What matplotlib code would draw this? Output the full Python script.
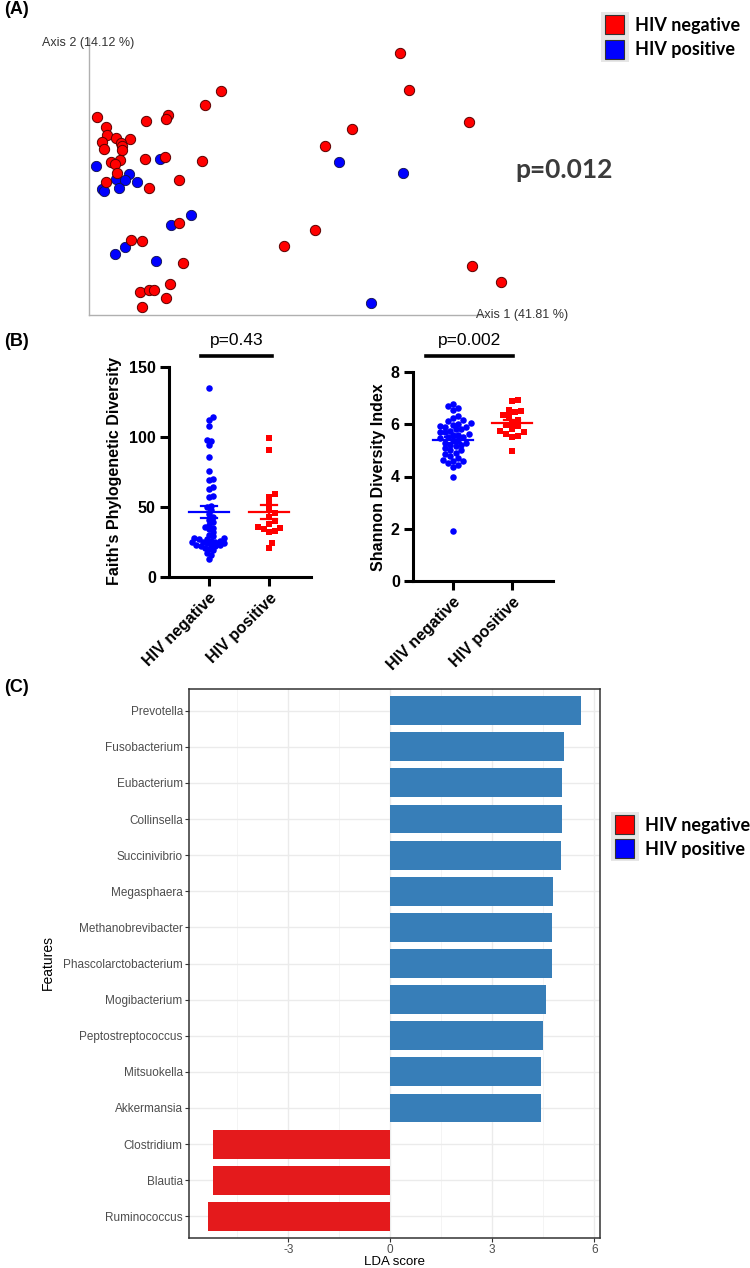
import numpy as np
import matplotlib
matplotlib.use("Agg")
import matplotlib.pyplot as plt
from matplotlib.patches import Rectangle

plt.rcParams["font.family"] = ["Liberation Sans", "DejaVu Sans"]
plt.rcParams["axes.unicode_minus"] = False

# ---- data ----
# (A) PCoA coordinates
pc1_neg = [0.152, 0.113, 0.019, 0.016, -0.158, -0.034, -0.134, -0.132, -0.110, -0.074,
           -0.144, -0.098, -0.095, -0.140, -0.095, -0.038, 0.012, 0.105, -0.123, -0.100,
           -0.113, -0.108, -0.134, 0.048, -0.028, 0.048, -0.073, -0.046, 0.058, 0.026,
           -0.050, -0.028, -0.015, 0.016, -0.046, 0.600, 0.623, 0.773, 0.480, 0.412,
           0.387, 0.309, 0.779, 0.852]
pc2_neg = [0.248, 0.212, 0.188, 0.177, 0.183, 0.172, 0.158, 0.138, 0.131, 0.128,
           0.119, 0.117, 0.109, 0.102, 0.099, 0.078, 0.083, 0.073, 0.070, 0.075,
           0.064, 0.043, 0.020, 0.024, 0.006, -0.082, -0.124, -0.127, -0.183, -0.234,
           -0.256, -0.250, -0.250, -0.269, -0.292, 0.343, 0.250, 0.170, 0.153, 0.111,
           -0.099, -0.140, -0.190, -0.231]
pc1_pos = [0.000, -0.161, -0.078, -0.110, -0.088, -0.058, -0.145, -0.103, -0.140,
           0.078, 0.027, -0.088, -0.113, -0.011, 0.448, 0.608, 0.527]
pc2_pos = [0.078, 0.059, 0.040, 0.028, 0.025, 0.020, 0.003, 0.005, -0.003,
           -0.063, -0.087, -0.142, -0.160, -0.178, 0.071, 0.043, -0.282]
axis1_label = "Axis 1 (41.81 %)"
axis2_label = "Axis 2 (14.12 %)"
p_pcoa = "p=0.012"

# (B) alpha diversity
groups = ["HIV negative", "HIV positive"]
faith_neg = [135, 114, 112, 108, 98, 97, 94, 86, 76, 70, 69, 64, 63, 58, 57, 51, 50,
             48, 45, 43, 41, 39, 37, 36, 35, 34, 32, 30, 29, 28, 28, 27, 27, 26, 26,
             25, 25, 25, 24, 24, 23, 23, 23, 22, 22, 21, 20, 19, 17, 16, 13]
faith_pos = [99, 91, 59.5, 57, 53, 49, 46, 43, 40, 38, 36, 35, 34.5, 33, 32.5, 24.5, 21]
shannon_neg = [1.92, 4.0, 4.38, 4.45, 4.5, 4.58, 4.6, 4.64, 4.70, 4.77, 4.87, 4.9,
               5.0, 5.0, 5.09, 5.15, 5.2, 5.21, 5.3, 5.30, 5.38, 5.4, 5.47, 5.5, 5.53,
               5.58, 5.6, 5.64, 5.69, 5.7, 5.76, 5.8, 5.81, 5.89, 5.9, 5.94, 5.98, 6.0,
               6.04, 6.11, 6.17, 6.24, 6.33, 6.56, 6.62, 6.71, 6.77]
shannon_pos = [6.94, 6.88, 6.49, 6.56, 6.45, 6.36, 6.30, 6.17, 6.07, 5.98, 5.92, 5.81,
               5.75, 5.70, 5.64, 5.56, 5.53, 4.96]
p_faith = "p=0.43"
p_shannon = "p=0.002"

# (C) LEfSe
features = ["Prevotella", "Fusobacterium", "Eubacterium", "Collinsella", "Succinivibrio",
            "Megasphaera", "Methanobrevibacter", "Phascolarctobacterium", "Mogibacterium",
            "Peptostreptococcus", "Mitsuokella", "Akkermansia", "Clostridium", "Blautia",
            "Ruminococcus"]
lda = [5.62, 5.12, 5.05, 5.05, 5.02, 4.79, 4.77, 4.77, 4.58, 4.49, 4.44, 4.42,
       -5.21, -5.21, -5.37]

RED = "#FF0000"
BLUE = "#0000FF"

W, H = 750, 1268
fig = plt.figure(figsize=(7.5, 12.68), dpi=100)


def box(l, t, r, b):
    return [l / W, 1 - b / H, (r - l) / W, (b - t) / H]


def fx(x):
    return x / W


def fy(y):
    return 1 - y / H


def legend_box(x0, y0, gap):
    fig.add_artist(Rectangle((fx(x0 - 4), fy(y0 + gap + 22)), 28 / W, (gap + 25) / H,
                             transform=fig.transFigure, facecolor="#E6E6E6", edgecolor="none"))
    for i, (col, lab) in enumerate([(RED, "HIV negative"), (BLUE, "HIV positive")]):
        top = y0 + i * gap
        fig.add_artist(Rectangle((fx(x0), fy(top + 19)), 19 / W, 19 / H,
                                 transform=fig.transFigure, facecolor=col,
                                 edgecolor="#333333", lw=0.8))
        fig.text(fx(x0 + 30), fy(top + 10), lab, fontsize=13, fontweight="bold",
                 family=["Lato", "DejaVu Sans"], ha="left", va="center")


def swarm(vals, ppu_y, ppu_x, d):
    vals = np.asarray(vals, float)
    offs = np.zeros(len(vals))
    placed = []
    step = d * 0.5
    for i in np.argsort(vals):
        y = vals[i] * ppu_y
        k = 0
        found = None
        while found is None:
            cands = [0.0] if k == 0 else [k * step, -k * step]
            for c in cands:
                if all((c - px) ** 2 + (y - py) ** 2 >= d * d for px, py in placed):
                    found = c
                    break
            k += 1
        placed.append((found, y))
        offs[i] = found / ppu_x
    return offs


def mean_sem(ax, pos, vals, col):
    m = np.mean(vals)
    se = np.std(vals, ddof=1) / np.sqrt(len(vals))
    ax.plot([pos - 0.34, pos + 0.34], [m, m], color=col, lw=1.6, zorder=4)
    ax.plot([pos, pos], [m - se, m + se], color=col, lw=1.6, zorder=4)
    for v in (m - se, m + se):
        ax.plot([pos - 0.14, pos + 0.14], [v, v], color=col, lw=1.6, zorder=4)


# ---- (A) ----
fig.text(fx(4), fy(10), "(A)", fontsize=13, fontweight="bold", va="center")
axA = fig.add_axes(box(89, 38, 540, 315))
axA.scatter(pc1_pos, pc2_pos, s=55, c=BLUE, edgecolors="#10104a", linewidths=0.6,
            zorder=3, clip_on=False)
axA.scatter(pc1_neg, pc2_neg, s=55, c=RED, edgecolors="#5a0000", linewidths=0.7,
            zorder=3, clip_on=False)
axA.set_xlim((89 - 160) / 400, (540 - 160) / 400)
axA.set_ylim((190 - 315) / 400, (190 - 38) / 400)
axA.set_xticks([])
axA.set_yticks([])
for s in ["top", "right"]:
    axA.spines[s].set_visible(False)
for s in ["left", "bottom"]:
    axA.spines[s].set_color("#b0b0b0")
    axA.spines[s].set_linewidth(1.0)
axA.spines["bottom"].set_bounds((89 - 160) / 400, (485 - 160) / 400)
fig.text(fx(42), fy(43), axis2_label, fontsize=9, color="#333333", va="center")
fig.text(fx(476), fy(315), axis1_label, fontsize=9, color="#333333", va="center")
fig.text(fx(564), fy(170), p_pcoa, fontsize=19, fontweight="bold", color="#3b3b3b",
         ha="center", va="center", family=["Lato", "DejaVu Sans"])
legend_box(605, 15, 25)

# ---- (B) ----
fig.text(fx(4), fy(341), "(B)", fontsize=13, fontweight="bold", va="center")


def dot_panel(rect, neg, pos, ylim, yticks, ppu_y, ppu_x, xlim, ylabel, lab_xy, ptxt,
              bar_px, dn, dp):
    ax = fig.add_axes(box(*rect))
    ax.scatter(0 + swarm(neg, ppu_y, ppu_x, dn), neg, s=22, marker="o", c=BLUE,
               linewidths=0, zorder=3, clip_on=False)
    ax.scatter(1 + swarm(pos, ppu_y, ppu_x, dp), pos, s=24, marker="s", c=RED,
               linewidths=0, zorder=3, clip_on=False)
    mean_sem(ax, 0, neg, BLUE)
    mean_sem(ax, 1, pos, RED)
    ax.set_xlim(*xlim)
    ax.set_ylim(*ylim)
    ax.set_yticks(yticks)
    ax.set_xticks([0, 1])
    ax.set_xticklabels(groups, rotation=45, ha="right", rotation_mode="anchor",
                       fontsize=11.5, fontweight="bold")
    for t in ax.get_yticklabels():
        t.set_fontweight("bold")
        t.set_fontsize(11.5)
    for s in ["top", "right"]:
        ax.spines[s].set_visible(False)
    for s in ["left", "bottom"]:
        ax.spines[s].set_linewidth(2.2)
    ax.tick_params(length=6.5, width=2.2, pad=3)
    fig.text(fx(lab_xy[0]), fy(lab_xy[1]), ylabel, rotation=90, fontsize=11.5,
             fontweight="bold", ha="center", va="center")
    # significance bar
    x0, x1, ybar, ytxt = bar_px
    fig.add_artist(plt.Line2D([fx(x0), fx(x1)], [fy(ybar), fy(ybar)], lw=2.6, color="black",
                              transform=fig.transFigure))
    fig.text(fx((x0 + x1) / 2), fy(ytxt), ptxt, fontsize=12.5, ha="center", va="center")
    return ax


dot_panel((169, 367, 311, 577), faith_neg, faith_pos, (0, 150), [0, 50, 100, 150],
          210 / 150, 60, (-0.667, 1.7), "Faith's Phylogenetic Diversity", (115, 471),
          p_faith, (201, 272, 356, 340), 4.2, 5.5)
dot_panel((413, 372, 553, 581), shannon_neg, shannon_pos, (0, 8), [0, 2, 4, 6, 8],
          209 / 8, 59, (-0.678, 1.695), "Shannon Diversity Index", (378, 477),
          p_shannon, (426, 513, 356, 340), 5.2, 6.2)

# ---- (C) ----
fig.text(fx(4), fy(688), "(C)", fontsize=13, fontweight="bold", va="center")
axC = fig.add_axes(box(189, 689, 600, 1238))
ypos = np.arange(len(features))
cols = ["#377EB8" if v > 0 else "#E41A1C" for v in lda]
axC.barh(ypos, lda, height=0.8, color=cols, zorder=3)
axC.set_ylim(len(features) - 0.4, -0.6)
axC.set_xlim(-5.92, 6.17)
axC.set_yticks(ypos)
axC.set_yticklabels(features)
axC.set_xticks([-3, 0, 3, 6])
axC.set_xticks([-4.5, -1.5, 1.5, 4.5], minor=True)
axC.grid(which="major", color="#EBEBEB", lw=1.0, zorder=0)
axC.grid(which="minor", axis="x", color="#F2F2F2", lw=0.6, zorder=0)
axC.set_axisbelow(True)
axC.tick_params(which="major", length=3, width=0.8, color="#333333", labelsize=8.5,
                labelcolor="#4D4D4D", pad=1.5)
axC.tick_params(which="minor", length=0)
for s in axC.spines.values():
    s.set_color("#333333")
    s.set_linewidth(1.1)
fig.text(fx(395), fy(1262), "LDA score", fontsize=9.5, ha="center", va="center")
fig.text(fx(48), fy(963), "Features", fontsize=10, rotation=90, ha="center", va="center")
legend_box(615, 815, 24)

fig.savefig("out.png", dpi=100)
